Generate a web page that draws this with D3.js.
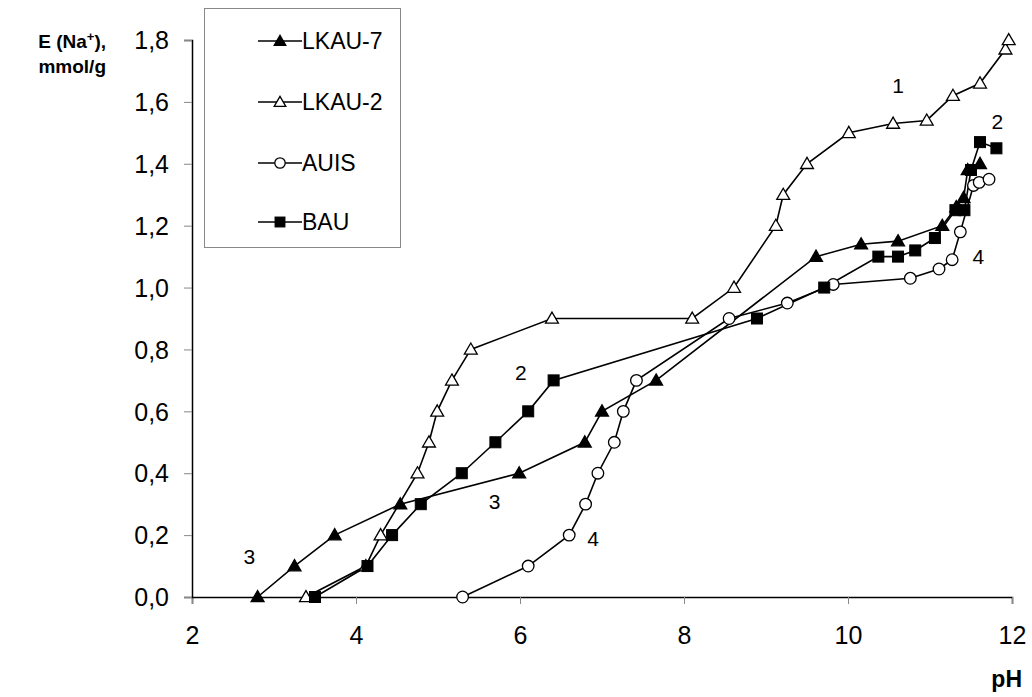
<!DOCTYPE html>
<html><head><meta charset="utf-8">
<script src="https://cdn.jsdelivr.net/npm/d3@7/dist/d3.min.js"></script>
<style>body{margin:0;background:#fff}svg{display:block}text{font-family:"Liberation Sans",Arial,sans-serif}</style>
</head><body><svg id="c" width="1032" height="697"></svg>
<script>
const lkau7 = [[2.80,0],[3.25,0.10],[3.74,0.20],[4.54,0.30],[5.99,0.40],[6.79,0.50],[7.00,0.60],[7.66,0.70],[9.61,1.10],[10.16,1.14],[10.61,1.15],[11.15,1.20],[11.32,1.26],[11.41,1.29],[11.46,1.38],[11.61,1.40]];
const lkau2 = [[3.39,0],[4.12,0.10],[4.30,0.20],[4.75,0.40],[4.89,0.50],[4.99,0.60],[5.17,0.70],[5.40,0.80],[6.39,0.90],[8.10,0.90],[8.61,1.00],[9.12,1.20],[9.21,1.30],[9.50,1.40],[10.01,1.50],[10.55,1.53],[10.96,1.54],[11.28,1.62],[11.61,1.66],[11.92,1.77],[11.96,1.80]];
const auis = [[5.30,0],[6.10,0.10],[6.60,0.20],[6.80,0.30],[6.95,0.40],[7.15,0.50],[7.26,0.60],[7.42,0.70],[8.55,0.90],[9.26,0.95],[9.82,1.01],[10.76,1.03],[11.11,1.06],[11.27,1.09],[11.37,1.18],[11.53,1.33],[11.60,1.34],[11.72,1.35]];
const bau = [[3.50,0],[4.14,0.10],[4.44,0.20],[4.79,0.30],[5.29,0.40],[5.70,0.50],[6.10,0.60],[6.41,0.70],[8.89,0.90],[9.71,1.00],[10.37,1.10],[10.61,1.10],[10.82,1.12],[11.06,1.16],[11.31,1.25],[11.42,1.25],[11.50,1.38],[11.61,1.47],[11.81,1.45]];
const xTicks = [2,4,6,8,10,12];
const yTicks = [0,0.2,0.4,0.6,0.8,1.0,1.2,1.4,1.6,1.8];
const legendNames = ["LKAU-7","LKAU-2","AUIS","BAU"];
const curveLabels = [["1",10.61,1.654],["2",11.82,1.535],["2",6.01,0.724],["3",2.70,0.13],["3",5.69,0.307],["4",11.59,1.10],["4",6.89,0.19]];

const svg = d3.select("#c");
const x = d3.scaleLinear().domain([2,12]).range([192,1012]);
const y = d3.scaleLinear().domain([0,1.8]).range([597,40]);
const fmt = d => d3.format(".1f")(d).replace(".",",");

// axes
const gx = svg.append("g").attr("transform","translate(0,597)")
  .call(d3.axisBottom(x).tickValues(xTicks).tickSize(7).tickPadding(22).tickFormat(d3.format("d")));
const gy = svg.append("g").attr("transform","translate(192,0)")
  .call(d3.axisLeft(y).tickValues(yTicks).tickSize(8).tickPadding(15).tickFormat(fmt));
[gx,gy].forEach(g=>{
  g.select(".domain").attr("stroke","#000").attr("stroke-width",1.5);
  g.selectAll(".tick line").attr("stroke","#888").attr("stroke-width",1);
  g.selectAll(".tick text").attr("font-size",25).attr("fill","#000").style("font-family","'Liberation Sans',Arial,sans-serif");
});
gy.selectAll(".tick text").attr("dy","0.35em");
gx.selectAll(".tick text").attr("dy","0.71em");

// axis titles
const t1 = svg.append("text").attr("x",106).attr("y",48).attr("text-anchor","end").attr("font-size",19).attr("font-weight","bold");
t1.append("tspan").text("E (Na");
t1.append("tspan").attr("dy",-7).attr("font-size",13).text("+");
t1.append("tspan").attr("dy",7).text("),");
svg.append("text").attr("x",106).attr("y",73).attr("text-anchor","end").attr("font-size",19).attr("font-weight","bold").text("mmol/g");
svg.append("text").attr("x",1022).attr("y",687).attr("text-anchor","end").attr("font-size",23).attr("font-weight","bold").text("pH");

const series = [
  {data:lkau7, type:"tri", fill:"#000"},
  {data:lkau2, type:"tri", fill:"#fff"},
  {data:auis, type:"circle", fill:"#fff"},
  {data:bau, type:"square", fill:"#000"}
];
const line = d3.line().x(d=>x(d[0])).y(d=>y(d[1]));

function marker(g, type, fill, cx, cy, scale){
  scale = scale||1;
  if(type==="tri"){
    g.append("path").attr("d",d3.symbol().type(d3.symbolTriangle).size(72*scale*scale)())
      .attr("transform",`translate(${cx},${cy+1})`).attr("fill",fill).attr("stroke","#000").attr("stroke-width",1.3);
  } else if(type==="circle"){
    g.append("circle").attr("cx",cx).attr("cy",cy).attr("r",5.8*scale).attr("fill",fill).attr("stroke","#000").attr("stroke-width",1.3);
  } else {
    const s=11*scale;
    g.append("rect").attr("x",cx-s/2).attr("y",cy-s/2).attr("width",s).attr("height",s).attr("fill",fill).attr("stroke","#000").attr("stroke-width",1);
  }
}

series.forEach(s=>{
  svg.append("path").datum(s.data).attr("d",line).attr("fill","none").attr("stroke","#000").attr("stroke-width",1.6);
});
series.forEach(s=>{
  const g = svg.append("g");
  s.data.forEach(d=>marker(g,s.type,s.fill,x(d[0]),y(d[1])));
});

// curve labels
curveLabels.forEach(l=>{
  svg.append("text").attr("x",x(l[1])).attr("y",y(l[2])).attr("text-anchor","middle").attr("dy","0.35em").attr("font-size",21).text(l[0]);
});

// legend
svg.append("rect").attr("x",204.5).attr("y",8.5).attr("width",196).attr("height",239).attr("fill","#fff").attr("stroke","#888").attr("stroke-width",1);
const ly = [41,102,163,222];
legendNames.forEach((n,i)=>{
  const g = svg.append("g");
  g.append("line").attr("x1",258).attr("x2",302).attr("y1",ly[i]).attr("y2",ly[i]).attr("stroke","#000").attr("stroke-width",1.6);
  marker(g, series[i].type, series[i].fill, 280, ly[i], 0.9);
  g.append("text").attr("x",302).attr("y",ly[i]).attr("dy","0.35em").attr("font-size",23).text(n);
});
</script></body></html>
